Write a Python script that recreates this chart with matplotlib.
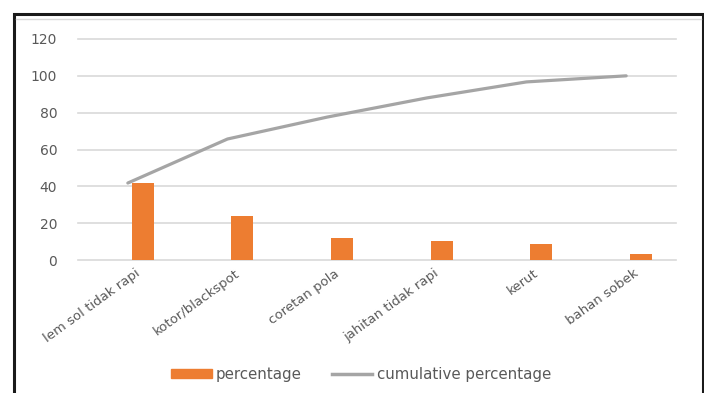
import numpy as np
import matplotlib
matplotlib.use("Agg")
from matplotlib import pyplot as plt
from matplotlib.patches import Rectangle, Patch
from matplotlib.lines import Line2D

categories = ["lem sol tidak rapi", "kotor/blackspot", "coretan pola",
              "jahitan tidak rapi", "kerut", "bahan sobek"]
percentage = [41.8, 23.9, 11.9, 10.4, 8.7, 3.0]
cumulative = [41.8, 65.7, 77.6, 88.0, 96.7, 100.0]
yticks = [0, 20, 40, 60, 80, 100, 120]

bar_color = "#ED7D31"
line_color = "#A5A5A5"
text_color = "#595959"

plt.rcParams['font.family'] = ['DejaVu Sans']

fig = plt.figure(figsize=(7.04, 3.93), dpi=100)
ax = fig.add_axes([78 / 704, 1 - 260 / 393, 598 / 704, 221 / 393])

x = np.arange(len(categories))
ax.bar(x + 0.15, percentage, width=0.22, color=bar_color, zorder=3)
ax.plot(x, cumulative, color=line_color, lw=2.3, zorder=4, solid_capstyle='round')

ax.set_xlim(-0.5, 5.5)
ax.set_ylim(0, 120)
ax.set_yticks(yticks)
ax.set_yticklabels([str(v) for v in yticks], fontsize=10, color=text_color)
ax.set_xticks(x + 0.07)
ax.set_xticklabels(categories, rotation=36, ha='right', rotation_mode='anchor',
                   fontsize=9.5, color=text_color)
ax.tick_params(length=0, pad=5)
ax.tick_params(axis='y', pad=15)
ax.grid(axis='y', color="#D9D9D9", lw=1.2, zorder=0)
for gl in ax.get_ygridlines():
    gl.set_clip_on(False)
for s in ax.spines.values():
    s.set_visible(False)

# outer frame
fig.patches.append(Rectangle((14 / 704, -0.05), 689 / 704, 1.05 - 14 / 393,
                             transform=fig.transFigure, fill=False,
                             edgecolor="#1a1a1a", lw=2.2))
fig.add_artist(Line2D([16 / 704, 701 / 704], [1 - 19 / 393, 1 - 19 / 393],
                      transform=fig.transFigure, color="#D9D9D9", lw=1))

handles = [Patch(color=bar_color, label="percentage"),
           Line2D([0], [0], color=line_color, lw=2.5, label="cumulative percentage")]
fig.legend(handles=handles, loc='center', bbox_to_anchor=(0.513, 0.048), ncol=2,
           frameon=False, fontsize=10.8, handlelength=2.7, handleheight=0.5,
           handletextpad=0.3, columnspacing=2.0, labelcolor=text_color)

fig.savefig("out.png", dpi=100)
